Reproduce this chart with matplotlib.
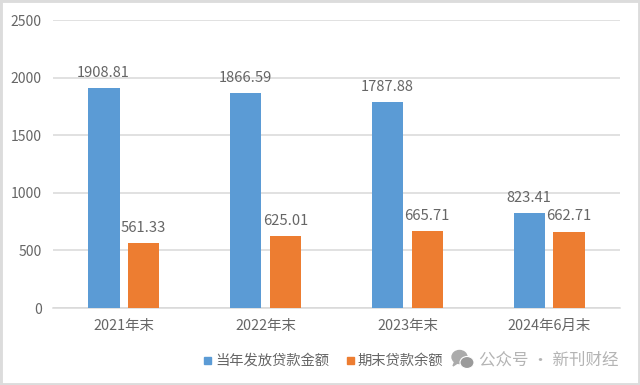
import matplotlib
matplotlib.use("Agg")
import matplotlib.pyplot as plt
from matplotlib.patches import Rectangle, Ellipse, Polygon

plt.rcParams['font.family'] = ['Noto Sans CJK SC', 'DejaVu Sans']

categories = ['2021年末', '2022年末', '2023年末', '2024年6月末']
issued = [1908.81, 1866.59, 1787.88, 823.41]
balance = [561.33, 625.01, 665.71, 662.71]
issued_labels = ['1908.81', '1866.59', '1787.88', '823.41']
balance_labels = ['561.33', '625.01', '665.71', '662.71']
series_names = ['当年发放贷款金额', '期末贷款余额']
yticks = [0, 500, 1000, 1500, 2000, 2500]

W, H = 640, 385
fig = plt.figure(figsize=(W / 100, H / 100), dpi=100)
ax = fig.add_axes([53 / W, 1 - 308 / H, 567 / W, 288 / H])

GRAY = '#666666'
GRID = '#D9D9D9'
BLUE = '#5B9BD5'
ORANGE = '#ED7D31'
off = 0.14
wid = 0.22
xs = list(range(len(categories)))
ax.bar([x - off for x in xs], issued, wid, color=BLUE, zorder=3)
ax.bar([x + off for x in xs], balance, wid, color=ORANGE, zorder=3)

ax.set_xlim(-0.5, 3.5)
ax.set_ylim(0, 2500)
ax.set_yticks(yticks)
ax.set_xticks(xs, categories)
ax.tick_params(length=0, labelsize=10, labelcolor=GRAY)
ax.tick_params(axis='x', labelsize=10.4, pad=8)
ax.tick_params(axis='y', pad=8)
ax.grid(axis='y', color=GRID, lw=1.1, zorder=0)
ax.set_axisbelow(True)
for s in ['top', 'right', 'left']:
    ax.spines[s].set_visible(False)
ax.spines['bottom'].set_color(GRID)
ax.spines['bottom'].set_linewidth(1.1)

for x, v, t in zip(xs, issued, issued_labels):
    ax.annotate(t, (x - off, v), xytext=(-0.5, 11), textcoords='offset points',
                ha='center', va='center', fontsize=10.6, color=GRAY, zorder=5)
for x, v, t in zip(xs, balance, balance_labels):
    ax.annotate(t, (x + off, v), xytext=(0, 11), textcoords='offset points',
                ha='center', va='center', fontsize=10.6, color=GRAY, zorder=5)

# legend
fig.add_artist(Rectangle((204 / W, 1 - 364 / H), 7 / W, 7 / H, transform=fig.transFigure, color=BLUE))
fig.text(215 / W, 1 - 360.5 / H, series_names[0], fontsize=10.3, color=GRAY, va='center', ha='left')
fig.add_artist(Rectangle((346.5 / W, 1 - 364 / H), 7 / W, 7 / H, transform=fig.transFigure, color=ORANGE))
fig.text(357 / W, 1 - 360.5 / H, series_names[1], fontsize=10.3, color=GRAY, va='center', ha='left')

# watermark
wm = '#B4B4B4'
fig.add_artist(Ellipse((459.5 / W, 1 - 357 / H), 15 / W, 13 / H, transform=fig.transFigure, color='#ABABAB'))
fig.add_artist(Polygon([(455 / W, 1 - 361 / H), (453 / W, 1 - 366 / H), (459 / W, 1 - 362 / H)],
                       transform=fig.transFigure, color='#ABABAB'))
fig.add_artist(Ellipse((467 / W, 1 - 362.5 / H), 14 / W, 12 / H, transform=fig.transFigure,
                       facecolor='#9A9A9A', edgecolor='white', lw=0.8))
fig.text(479 / W, 1 - 360 / H, '公众号 · 新刊财经', fontsize=11.9, color=wm, va='center', ha='left')

# outer frame
fig.add_artist(Rectangle((0, 0), 1, 1, transform=fig.transFigure, fill=False, ec='#DCDCDC', lw=3.5))

fig.savefig('out.png', dpi=100)
